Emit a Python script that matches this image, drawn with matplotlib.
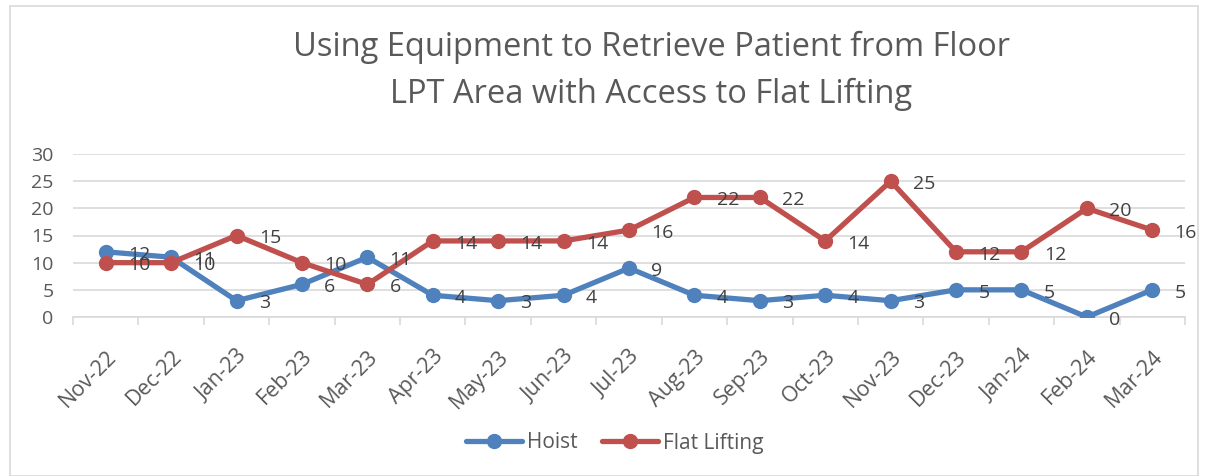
import numpy as np
from matplotlib import pyplot as plt
from matplotlib.patches import Rectangle

months = ["Nov-22", "Dec-22", "Jan-23", "Feb-23", "Mar-23", "Apr-23", "May-23",
          "Jun-23", "Jul-23", "Aug-23", "Sep-23", "Oct-23", "Nov-23", "Dec-23",
          "Jan-24", "Feb-24", "Mar-24"]
hoist = [12, 11, 3, 6, 11, 4, 3, 4, 9, 4, 3, 4, 3, 5, 5, 0, 5]
flat_lifting = [10, 10, 15, 10, 6, 14, 14, 14, 16, 22, 22, 14, 25, 12, 12, 20, 16]
y_ticks = [0, 5, 10, 15, 20, 25, 30]

TEXT = "#595959"
plt.rcParams["font.family"] = ["Open Sans", "DejaVu Sans"]

fig = plt.figure(figsize=(12.08, 4.76), dpi=100)
ax = fig.add_axes([73 / 1208, 1 - 317 / 476, 1112 / 1208, 163 / 476])

# chart frame
fig.patches.append(Rectangle((10 / 1208, 0), 1188 / 1208, 1 - 6 / 476,
                             transform=fig.transFigure, fill=False,
                             edgecolor="#D9D9D9", linewidth=1.2))

x = np.arange(len(months))
series = [("Hoist", hoist, "#4F81BD"), ("Flat Lifting", flat_lifting, "#C0504D")]
for name, vals, col in series:
    ax.plot(x, vals, color=col, linewidth=3.8, marker="o", markersize=10,
            label=name, zorder=3, solid_capstyle="round")
    for xi, v in zip(x, vals):
        ax.annotate(str(v), (xi, v), xytext=(16, -2), textcoords="offset points",
                    ha="left", va="center", fontsize=14, color="#404040",
                    zorder=4)

ax.set_xlim(-0.5, len(months) - 0.5)
ax.set_ylim(0, 30)
ax.set_yticks(y_ticks)
ax.set_yticklabels([str(t) for t in y_ticks], fontsize=14, color=TEXT)
ax.grid(axis="y", color="#D9D9D9", linewidth=1.2)
ax.set_axisbelow(True)

ax.set_xticks(x)
ax.set_xticklabels(months, rotation=45, ha="right", rotation_mode="anchor",
                   fontsize=15.5, color=TEXT)
ax.set_xticks(np.arange(-0.5, len(months)), minor=True)
ax.tick_params(axis="x", which="major", length=0, pad=21)
ax.tick_params(axis="x", which="minor", length=6, color="#D9D9D9", width=1.2)
ax.tick_params(axis="y", length=0, pad=14)

for s in ["top", "right", "left"]:
    ax.spines[s].set_visible(False)
ax.spines["bottom"].set_color("#D9D9D9")
ax.spines["bottom"].set_linewidth(1.2)

fig.text(0.539, 1 - 71 / 476,
         "Using Equipment to Retrieve Patient from Floor\nLPT Area with Access to Flat Lifting",
         ha="center", va="center", fontsize=23.5, color=TEXT, linespacing=1.52)

fig.legend(loc="center", bbox_to_anchor=(0.509, 1 - 443 / 476), ncol=2,
           frameon=False, fontsize=15, labelcolor=TEXT, handlelength=2.65,
           handletextpad=0.25, columnspacing=1.2)

plt.savefig("out.png", dpi=100)
plt.close()
